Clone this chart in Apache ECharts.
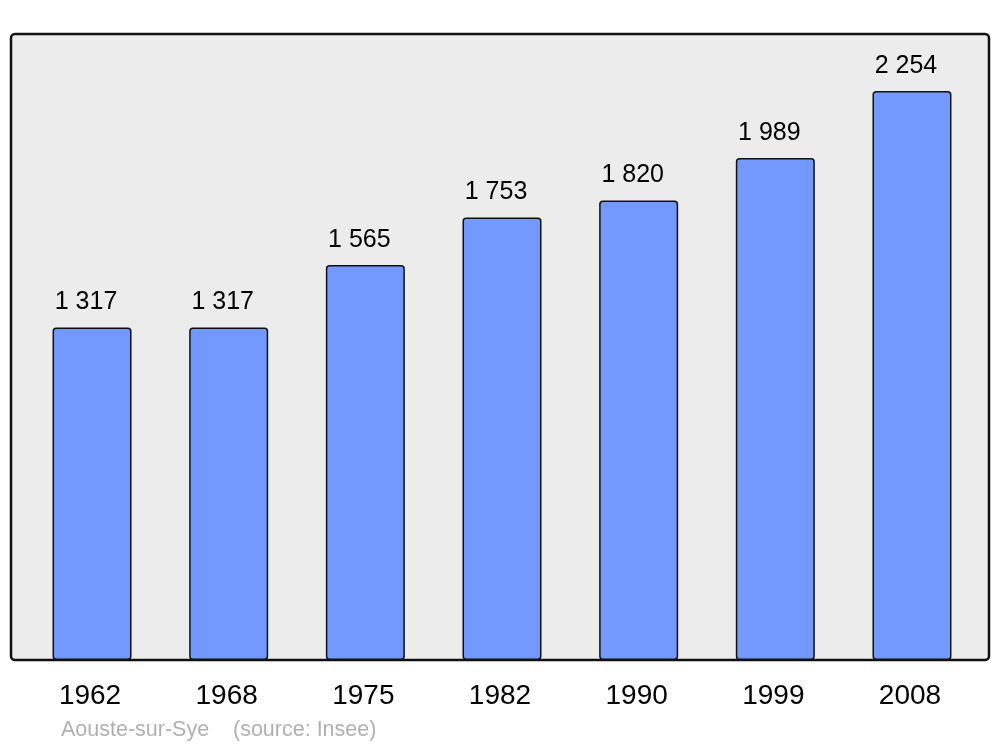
<!DOCTYPE html>
<html><head><meta charset="utf-8">
<script src="https://cdn.jsdelivr.net/npm/echarts@6/dist/echarts.min.js"></script>
<style>html,body{margin:0;padding:0;background:#fff}#c{width:1000px;height:747px}</style>
</head><body><div id="c"></div>
<script>
const years = ['1962','1968','1975','1982','1990','1999','2008'];
const population = [1317, 1317, 1565, 1753, 1820, 1989, 2254];
const placeName = 'Aouste-sur-Sye';
const sourceText = '(source: Insee)';

const fmt = v => String(v).replace(/\B(?=(\d{3})+(?!\d))/g, ' ');
const chart = echarts.init(document.getElementById('c'), null, {renderer:'canvas'});
const font = '"Liberation Sans", Arial, sans-serif';
chart.setOption({
  animation: false,
  backgroundColor: '#fff',
  graphic: [
    {type:'rect', z:-10, shape:{x:11, y:34, width:978, height:626, r:4},
     style:{fill:'#ececec', stroke:'#111', lineWidth:2.5}},
    {type:'text', left:61, top:719, style:{text:placeName, fill:'#b0b0b0', font:'21.5px ' + font}},
    {type:'text', left:233, top:719, style:{text:sourceText, fill:'#b0b0b0', font:'21.5px ' + font}}
  ],
  grid: {left:23.7, right:19.7, top:34, bottom:87},
  xAxis: {type:'category', data:years,
    axisLine:{show:false}, axisTick:{show:false},
    axisLabel:{fontSize:28, color:'#000', margin:22, fontFamily:font, padding:[0,4,0,0]}},
  yAxis: {type:'value', min:0, max:2480, show:false, splitLine:{show:false}},
  series: [{
    type:'bar', data:population, barWidth:79,
    itemStyle:{color:'#7399ff', borderColor:'#111', borderWidth:1.5, borderRadius:3},
    label:{show:true, position:'top', distance:12.5, offset:[-6,0], fontSize:25, color:'#000',
      fontFamily:font, formatter: p => fmt(p.value)}
  }]
});
</script></body></html>
